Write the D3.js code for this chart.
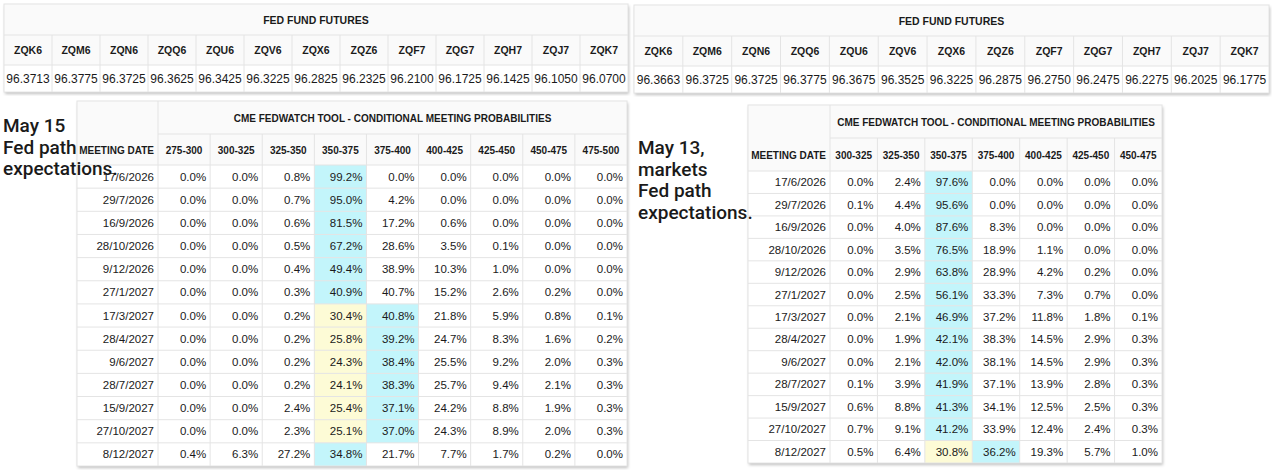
<!DOCTYPE html>
<html lang="en">
<head>
  <title>Fed path expectations</title>
  <script src="https://d3js.org/d3.v7.min.js" charset="utf-8"></script>
  <style>
    body { margin: 0; background: #fff; }
    text { font-family: "Liberation Sans", Arial, sans-serif; fill: #1a1a1a; }
  </style>
</head>
<body>
<script>
  // Data
  var contracts = ["ZQK6","ZQM6","ZQN6","ZQQ6","ZQU6","ZQV6","ZQX6","ZQZ6","ZQF7","ZQG7","ZQH7","ZQJ7","ZQK7"];
  var futuresMay15 = ["96.3713","96.3775","96.3725","96.3625","96.3425","96.3225","96.2825","96.2325","96.2100","96.1725","96.1425","96.1050","96.0700"];
  var futuresMay13 = ["96.3663","96.3725","96.3725","96.3775","96.3675","96.3525","96.3225","96.2875","96.2750","96.2475","96.2275","96.2025","96.1775"];

  var meetingDates = ["17/6/2026","29/7/2026","16/9/2026","28/10/2026","9/12/2026","27/1/2027","17/3/2027","28/4/2027","9/6/2027","28/7/2027","15/9/2027","27/10/2027","8/12/2027"];
  var rangesMay15 = ["275-300","300-325","325-350","350-375","375-400","400-425","425-450","450-475","475-500"];
  var probsMay15 = [
    [0.0,0.0,0.8,99.2,0.0,0.0,0.0,0.0,0.0],
    [0.0,0.0,0.7,95.0,4.2,0.0,0.0,0.0,0.0],
    [0.0,0.0,0.6,81.5,17.2,0.6,0.0,0.0,0.0],
    [0.0,0.0,0.5,67.2,28.6,3.5,0.1,0.0,0.0],
    [0.0,0.0,0.4,49.4,38.9,10.3,1.0,0.0,0.0],
    [0.0,0.0,0.3,40.9,40.7,15.2,2.6,0.2,0.0],
    [0.0,0.0,0.2,30.4,40.8,21.8,5.9,0.8,0.1],
    [0.0,0.0,0.2,25.8,39.2,24.7,8.3,1.6,0.2],
    [0.0,0.0,0.2,24.3,38.4,25.5,9.2,2.0,0.3],
    [0.0,0.0,0.2,24.1,38.3,25.7,9.4,2.1,0.3],
    [0.0,0.0,2.4,25.4,37.1,24.2,8.8,1.9,0.3],
    [0.0,0.0,2.3,25.1,37.0,24.3,8.9,2.0,0.3],
    [0.4,6.3,27.2,34.8,21.7,7.7,1.7,0.2,0.0]
  ];
  var rangesMay13 = ["300-325","325-350","350-375","375-400","400-425","425-450","450-475"];
  var probsMay13 = [
    [0.0,2.4,97.6,0.0,0.0,0.0,0.0],
    [0.1,4.4,95.6,0.0,0.0,0.0,0.0],
    [0.0,4.0,87.6,8.3,0.0,0.0,0.0],
    [0.0,3.5,76.5,18.9,1.1,0.0,0.0],
    [0.0,2.9,63.8,28.9,4.2,0.2,0.0],
    [0.0,2.5,56.1,33.3,7.3,0.7,0.0],
    [0.0,2.1,46.9,37.2,11.8,1.8,0.1],
    [0.0,1.9,42.1,38.3,14.5,2.9,0.3],
    [0.0,2.1,42.0,38.1,14.5,2.9,0.3],
    [0.1,3.9,41.9,37.1,13.9,2.8,0.3],
    [0.6,8.8,41.3,34.1,12.5,2.5,0.3],
    [0.7,9.1,41.2,33.9,12.4,2.4,0.3],
    [0.5,6.4,30.8,36.2,19.3,5.7,1.0]
  ];
  var currentRange = "350-375";

  var width = 1272, height = 470;
  var grid = "#e4e4e4";

  var svg = d3.select("body").append("svg")
    .attr("width", width).attr("height", height);

  var defs = svg.append("defs");
  var f = defs.append("filter").attr("id", "shadow").attr("x", "-2%").attr("y", "-2%").attr("width", "104%").attr("height", "106%");
  f.append("feDropShadow").attr("dx", 1).attr("dy", 2).attr("stdDeviation", 1.5).attr("flood-color", "#000").attr("flood-opacity", 0.25);

  function futuresTable(x0, x1, y0, values) {
    var g = svg.append("g");
    var x = d3.scaleBand().domain(contracts).range([x0, x1]);
    var rows = [y0, y0 + 31, y0 + 61, y0 + 88];
    g.append("rect").attr("x", x0).attr("y", y0).attr("width", x1 - x0).attr("height", rows[3] - y0)
      .attr("fill", "#fff").attr("filter", "url(#shadow)");
    g.append("rect").attr("x", x0).attr("y", y0).attr("width", x1 - x0).attr("height", rows[2] - y0).attr("fill", "#fafafa");
    g.append("rect").attr("x", x0).attr("y", y0).attr("width", x1 - x0).attr("height", rows[3] - y0)
      .attr("fill", "none").attr("stroke", grid);
    [rows[1], rows[2]].forEach(function (y) {
      g.append("line").attr("x1", x0).attr("x2", x1).attr("y1", y).attr("y2", y).attr("stroke", grid);
    });
    contracts.slice(1).forEach(function (c) {
      g.append("line").attr("x1", x(c)).attr("x2", x(c)).attr("y1", rows[1]).attr("y2", rows[3]).attr("stroke", grid);
    });
    g.append("text").attr("x", (x0 + x1) / 2).attr("y", (rows[0] + rows[1]) / 2 + 4)
      .attr("text-anchor", "middle").attr("font-size", 10.5).attr("font-weight", "bold").text("FED FUND FUTURES");
    g.selectAll(".h").data(contracts).enter().append("text")
      .attr("x", function (d) { return x(d) + x.bandwidth() / 2; })
      .attr("y", (rows[1] + rows[2]) / 2 + 4).attr("text-anchor", "middle")
      .attr("font-size", 10.5).attr("font-weight", "bold").text(function (d) { return d; });
    g.selectAll(".v").data(values).enter().append("text")
      .attr("x", function (d, i) { return x(contracts[i]) + x.bandwidth() / 2; })
      .attr("y", (rows[2] + rows[3]) / 2 + 4).attr("text-anchor", "middle")
      .attr("font-size", 12).text(function (d) { return d; });
  }

  function cmeTable(x0, xd, x1, y0, titleH, headH, y1, ranges, probs) {
    var g = svg.append("g");
    var x = d3.scaleBand().domain(ranges).range([xd, x1]);
    var y = d3.scaleBand().domain(meetingDates).range([y0 + titleH + headH, y1]);
    g.append("rect").attr("x", x0).attr("y", y0).attr("width", x1 - x0).attr("height", y1 - y0)
      .attr("fill", "#fff").attr("filter", "url(#shadow)");
    g.append("rect").attr("x", x0).attr("y", y0).attr("width", x1 - x0).attr("height", titleH + headH).attr("fill", "#fafafa");
    // highlight cells: row maximum in cyan, current range in yellow otherwise
    probs.forEach(function (row, ri) {
      var mx = d3.max(row);
      row.forEach(function (v, ci) {
        var fill = null;
        if (v === mx) fill = "#c3f5fb";
        else if (ranges[ci] === currentRange) fill = "#fdfbd6";
        if (fill) g.append("rect").attr("x", x(ranges[ci])).attr("y", y(meetingDates[ri]))
          .attr("width", x.bandwidth()).attr("height", y.bandwidth()).attr("fill", fill);
      });
    });
    // grid
    g.append("line").attr("x1", xd).attr("x2", xd).attr("y1", y0).attr("y2", y1).attr("stroke", grid);
    ranges.slice(1).forEach(function (r) {
      g.append("line").attr("x1", x(r)).attr("x2", x(r)).attr("y1", y0 + titleH).attr("y2", y1).attr("stroke", grid);
    });
    g.append("line").attr("x1", xd).attr("x2", x1).attr("y1", y0 + titleH).attr("y2", y0 + titleH).attr("stroke", grid);
    meetingDates.forEach(function (d) {
      g.append("line").attr("x1", x0).attr("x2", x1).attr("y1", y(d)).attr("y2", y(d)).attr("stroke", grid);
    });
    g.append("rect").attr("x", x0).attr("y", y0).attr("width", x1 - x0).attr("height", y1 - y0)
      .attr("fill", "none").attr("stroke", grid);
    g.append("text").attr("x", (xd + x1) / 2).attr("y", y0 + titleH / 2 + 4).attr("text-anchor", "middle")
      .attr("font-size", 10).attr("font-weight", "bold").text("CME FEDWATCH TOOL - CONDITIONAL MEETING PROBABILITIES");
    var hy = y0 + titleH + headH / 2 + 4;
    g.append("text").attr("x", xd - 4).attr("y", hy).attr("text-anchor", "end")
      .attr("font-size", 10).attr("font-weight", "bold").text("MEETING DATE");
    g.selectAll(".h").data(ranges).enter().append("text")
      .attr("x", function (d) { return x(d) + x.bandwidth() / 2; }).attr("y", hy)
      .attr("text-anchor", "middle").attr("font-size", 10).attr("font-weight", "bold").text(function (d) { return d; });
    meetingDates.forEach(function (d, ri) {
      var cy = y(d) + y.bandwidth() / 2 + 4;
      g.append("text").attr("x", xd - 4).attr("y", cy).attr("text-anchor", "end").attr("font-size", 11.5).text(d);
      probs[ri].forEach(function (v, ci) {
        g.append("text").attr("x", x(ranges[ci]) + x.bandwidth() - 4).attr("y", cy)
          .attr("text-anchor", "end").attr("font-size", 11.5).text(v.toFixed(1) + "%");
      });
    });
  }

  function note(x0, y0, lines) {
    svg.append("g").selectAll("text").data(lines).enter().append("text")
      .attr("x", x0).attr("y", function (d, i) { return y0 + i * 21.5; })
      .style("font-family", "Roboto, sans-serif").attr("font-size", 19).attr("font-weight", 500)
      .text(function (d) { return d; });
  }

  futuresTable(4, 628, 4, futuresMay15);
  futuresTable(634, 1269, 5, futuresMay13);
  cmeTable(77, 158, 627, 101, 33, 31, 466, rangesMay15, probsMay15);
  cmeTable(748, 830, 1162, 105, 33, 33, 463, rangesMay13, probsMay13);
  note(3, 132, ["May 15", "Fed path", "expectations."]);
  note(638, 154, ["May 13,", "markets", "Fed path", "expectations."]);
</script>
</body>
</html>
